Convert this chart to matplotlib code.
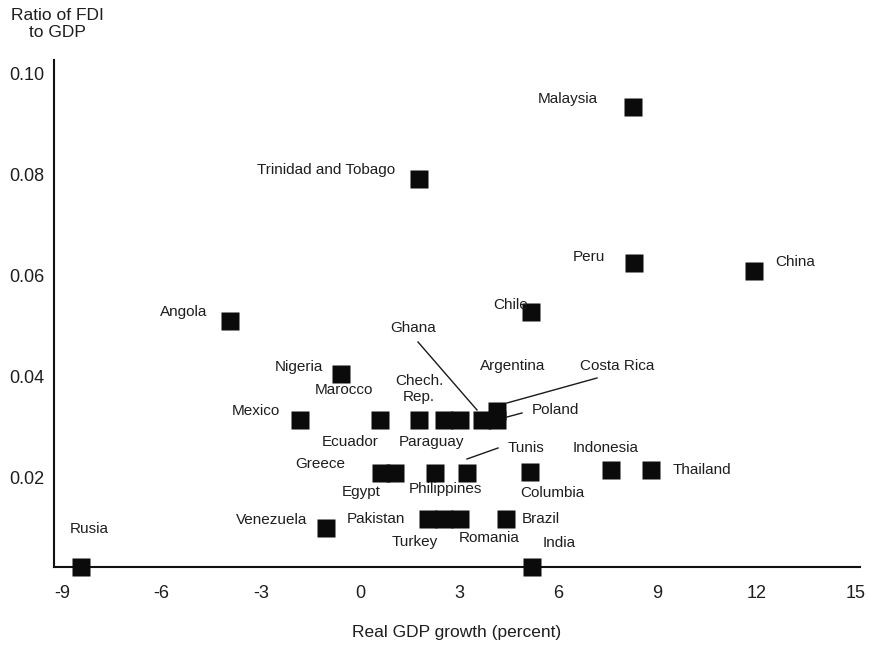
import matplotlib
matplotlib.use("Agg")
import matplotlib.pyplot as plt

plt.rcParams['font.family'] = ['Liberation Sans', 'DejaVu Sans']

# ---- data ----
countries = ["Malaysia", "Trinidad and Tobago", "Peru", "China", "Chile", "Angola",
             "Nigeria", "Mexico", "Ecuador", "Chech. Rep.", "Paraguay", "Argentina",
             "Ghana", "Poland", "Costa Rica", "Greece", "Egypt", "Philippines", "Tunis",
             "Columbia", "Indonesia", "Thailand", "Venezuela", "Pakistan", "Turkey",
             "Romania", "Brazil", "Rusia", "India"]
gdp_growth = [8.27, 1.78, 8.29, 11.92, 5.17, -3.93,
              -0.56, -1.80, 0.59, 1.78, 2.53, 3.01,
              3.70, 4.14, 4.14, 0.65, 1.07, 2.28, 3.24,
              5.13, 7.59, 8.80, -1.03, 2.07, 2.53,
              3.01, 4.43, -8.44, 5.19]
fdi_ratio = [0.0933, 0.0791, 0.0624, 0.0608, 0.0527, 0.0510,
             0.0405, 0.0314, 0.0314, 0.0314, 0.0314, 0.0314,
             0.0314, 0.0314, 0.0332, 0.0209, 0.0209, 0.0209, 0.0209,
             0.0210, 0.0214, 0.0214, 0.0100, 0.0118, 0.0118,
             0.0118, 0.0118, 0.0023, 0.0023]
x_ticks = [-9, -6, -3, 0, 3, 6, 9, 12, 15]
y_ticks = [0.02, 0.04, 0.06, 0.08, 0.10]
y_tick_labels = ["0.02", "0.04", "0.06", "0.08", "0.10"]

# ---- layout helpers (pixel -> data, for label placement only) ----
def px_x(px):
    return (px - 360) / 33.06

def px_y(py):
    return 0.02 + (477.5 - py) / 5056

# label anchor (left x px, center y px)
label_pos = {
    "Malaysia": (538, 99), "Trinidad and Tobago": (257, 170), "Peru": (573, 257),
    "China": (775, 262), "Chile": (493, 305), "Angola": (160, 312),
    "Ghana": (390, 328), "Argentina": (480, 366), "Costa Rica": (580, 366),
    "Nigeria": (275, 367), "Marocco": (315, 390), "Mexico": (232, 411),
    "Poland": (532, 410), "Ecuador": (322, 442), "Paraguay": (399, 442),
    "Tunis": (508, 448), "Indonesia": (573, 448), "Greece": (295, 464),
    "Thailand": (673, 470), "Egypt": (342, 492), "Philippines": (409, 489),
    "Columbia": (520, 493), "Venezuela": (236, 520), "Pakistan": (347, 519),
    "Brazil": (522, 519), "Turkey": (392, 542), "Romania": (459, 538),
    "India": (543, 543), "Rusia": (70, 529),
}
leaders = [((418, 342), (477, 410)), ((597, 378), (507, 403)),
           ((522, 413), (507, 417)), ((498, 448), (467, 459))]

W, H = 870, 645
fig = plt.figure(figsize=(W / 100, H / 100), dpi=100)
L, R, B, T = 54, 860, 567, 60
ax = fig.add_axes([L / W, 1 - B / H, (R - L) / W, (B - T) / H])

txt_color = '#1e1e1e'

ax.plot(gdp_growth, fdi_ratio, linestyle='none', marker='s', ms=12.8,
        mfc='#0b0b0b', mec='none', clip_on=False, zorder=3)

for name, (lx, ly) in label_pos.items():
    if name == "Chech. Rep.":
        continue
    ax.text(px_x(lx), px_y(ly), name, ha='left', va='center', fontsize=11,
            color=txt_color)
ax.text(px_x(419), px_y(389), "Chech.\nRep.", ha='center', va='center',
        fontsize=11, color=txt_color, linespacing=1.15, multialignment='center')

for (p0, p1) in leaders:
    ax.plot([px_x(p0[0]), px_x(p1[0])], [px_y(p0[1]), px_y(p1[1])],
            color='#1a1a1a', lw=1.0, zorder=2)

ax.set_xlim(px_x(L), px_x(R))
ax.set_ylim(px_y(B), px_y(T))
ax.set_xticks(x_ticks)
ax.set_xticklabels([str(v) for v in x_ticks])
ax.set_yticks(y_ticks)
ax.set_yticklabels(y_tick_labels)
ax.tick_params(axis='both', length=0, labelsize=13, colors=txt_color)
ax.tick_params(axis='x', pad=13)
ax.tick_params(axis='y', pad=7)

for s in ['top', 'right']:
    ax.spines[s].set_visible(False)
for s in ['left', 'bottom']:
    ax.spines[s].set_linewidth(1.5)
    ax.spines[s].set_color('#111111')

ax.set_xlabel("Real GDP growth (percent)", fontsize=12.5, color=txt_color, va='center')
ax.xaxis.set_label_coords(0.5, (B - 632) / (B - T))
ax.set_ylabel("Ratio of FDI\nto GDP", fontsize=12.5, color=txt_color, rotation=0,
              ha='center', va='center', linespacing=1.1)
ax.yaxis.set_label_coords((57 - L) / (R - L), (B - 24) / (B - T))

fig.savefig("out.png", dpi=100)
